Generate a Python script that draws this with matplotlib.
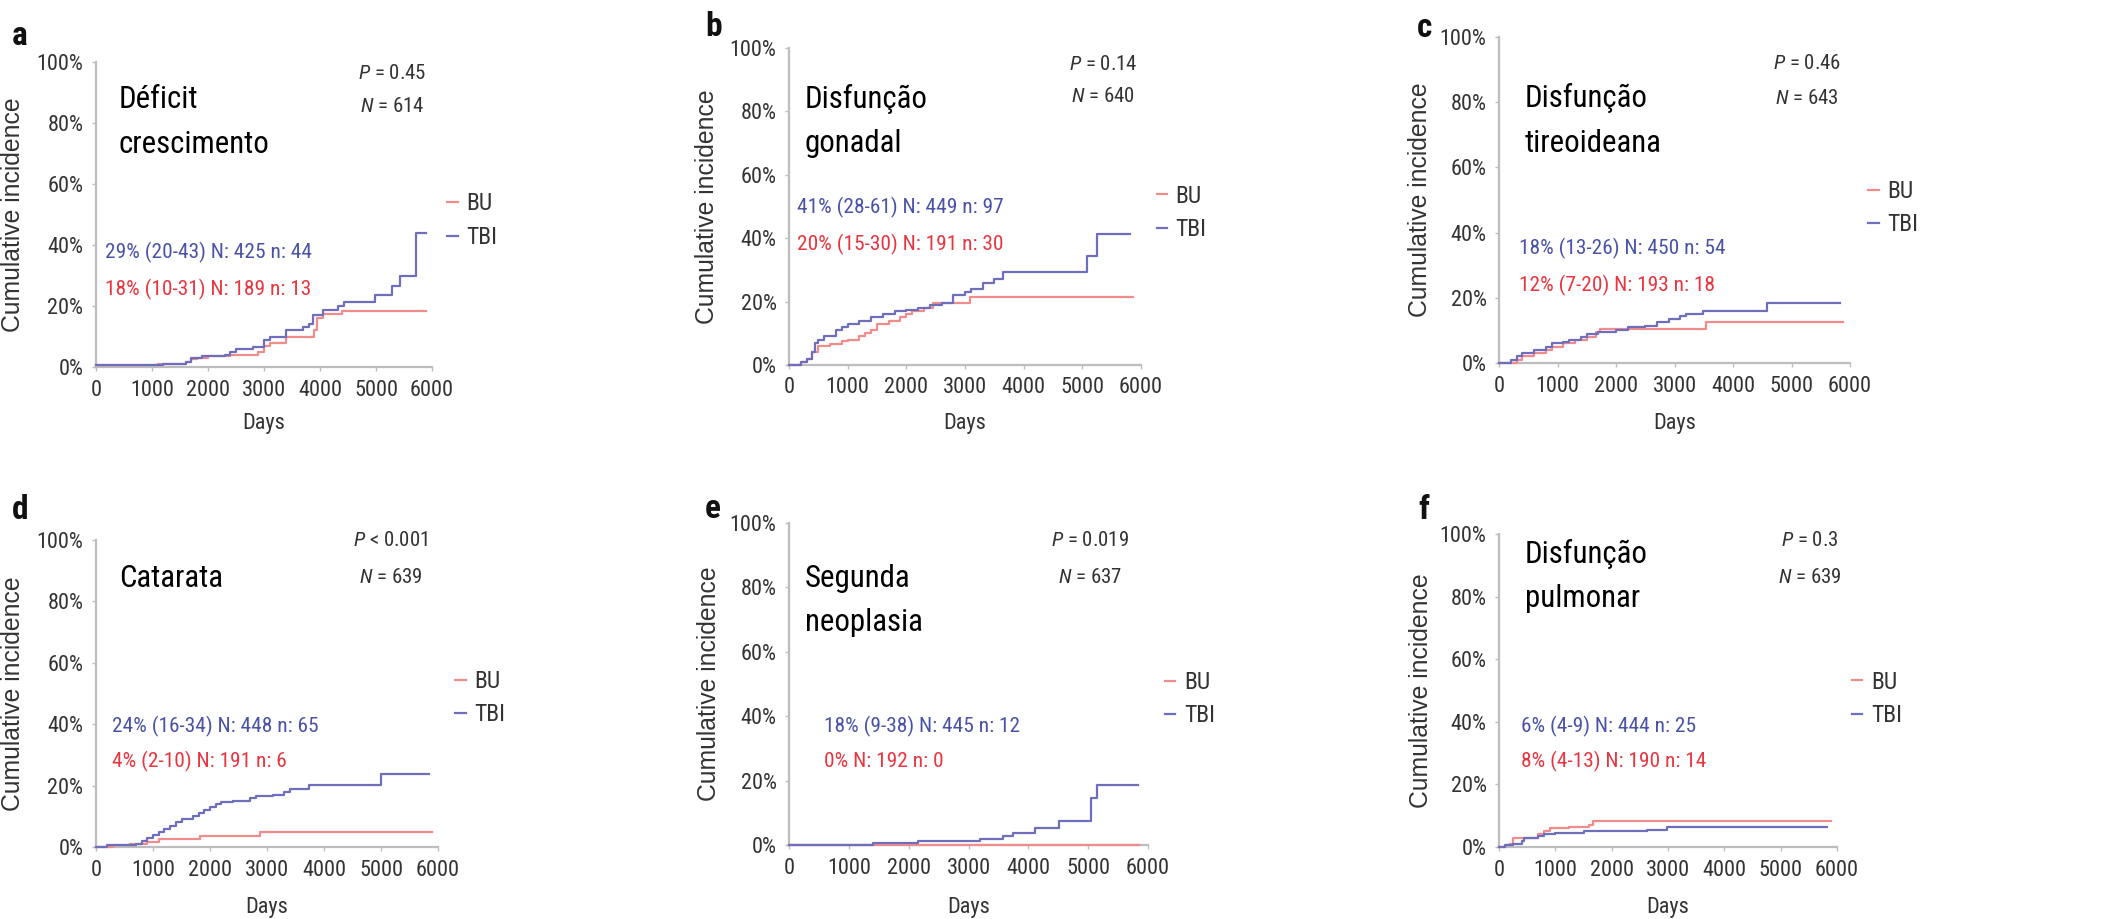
import matplotlib
matplotlib.use("Agg")
import matplotlib.pyplot as plt
from matplotlib.lines import Line2D

FONT = 'Roboto Condensed'
plt.rcParams['font.family'] = [FONT, 'Liberation Sans', 'DejaVu Sans']
plt.rcParams['mathtext.fontset'] = 'custom'
plt.rcParams['mathtext.rm'] = FONT
plt.rcParams['mathtext.it'] = FONT + ':italic'
plt.rcParams['mathtext.bf'] = FONT + ':bold'

W, H = 2124, 919

# ---------------- data (days, cumulative incidence %) ----------------
a_bu_days = [0, 1100, 1600, 1700, 1800, 2000, 2400, 2900, 3000, 3100, 3400, 3900, 3950, 4050, 4400, 5890]
a_bu_inc = [0.5, 1.0, 1.5, 2.5, 3.0, 3.5, 4.0, 5.0, 7.0, 8.0, 10.0, 12.0, 16.0, 17.5, 18.2, 18.2]
a_tbi_days = [0, 1000, 1200, 1600, 1700, 1900, 2300, 2400, 2500, 2800, 3000, 3100, 3400, 3700, 3800,
              3880, 4060, 4330, 4420, 4980, 5280, 5430, 5720, 5900]
a_tbi_inc = [0.5, 0.5, 1.0, 1.5, 3.0, 3.5, 4.0, 5.0, 6.0, 6.5, 9.0, 10.0, 12.0, 13.0, 14.0,
             17.0, 18.8, 20.0, 21.3, 23.5, 26.4, 30.0, 44.0, 44.0]

b_bu_days = [0, 200, 300, 400, 500, 700, 900, 1000, 1200, 1300, 1400, 1500, 1700, 1900, 2000, 2100,
             2300, 2460, 3080, 5870]
b_bu_inc = [0, 1.0, 2.0, 4.0, 6.0, 6.5, 7.5, 8.0, 9.0, 10.0, 11.0, 13.0, 14.0, 15.0, 16.0, 17.0,
            18.0, 19.7, 21.5, 21.5]
b_tbi_days = [0, 200, 300, 400, 450, 500, 600, 800, 900, 1000, 1200, 1400, 1600, 1800, 2000, 2200,
              2400, 2600, 2800, 3000, 3100, 3300, 3500, 3650, 5085, 5245, 5810]
b_tbi_inc = [0, 1.0, 2.0, 4.0, 7.0, 8.0, 9.0, 11.0, 12.0, 13.0, 14.0, 15.0, 16.0, 17.0, 17.5, 18.0,
             19.0, 19.5, 22.0, 23.0, 24.0, 26.0, 27.0, 29.4, 34.5, 41.3, 41.3]

c_bu_days = [0, 300, 400, 600, 800, 900, 1100, 1300, 1500, 1650, 1725, 3540, 5886]
c_bu_inc = [0, 1.0, 2.0, 3.0, 4.0, 5.0, 6.0, 7.0, 8.0, 9.5, 10.5, 12.6, 12.6]
c_tbi_days = [0, 200, 300, 400, 600, 800, 900, 1100, 1200, 1400, 1500, 1700, 2000, 2200, 2500, 2700,
              2900, 3100, 3200, 3490, 4575, 5830]
c_tbi_inc = [0, 1.0, 2.0, 3.0, 4.0, 5.0, 6.0, 6.5, 7.0, 8.0, 9.0, 9.5, 10.0, 11.0, 11.5, 12.5,
             13.5, 14.5, 15.0, 16.0, 18.4, 18.4]

d_bu_days = [0, 300, 600, 900, 1100, 1830, 2880, 5900]
d_bu_inc = [0, 0.5, 1.0, 1.5, 2.5, 3.5, 4.8, 4.8]
d_tbi_days = [0, 200, 700, 800, 900, 1000, 1100, 1200, 1300, 1400, 1500, 1700, 1800, 1900, 2000,
              2100, 2200, 2400, 2700, 2800, 3100, 3300, 3400, 3730, 5000, 5840]
d_tbi_inc = [0, 0.5, 1.0, 2.0, 3.0, 4.0, 5.0, 6.0, 7.0, 8.0, 9.0, 10.0, 11.0, 12.0, 13.0,
             14.0, 14.5, 15.0, 16.0, 16.5, 17.0, 18.0, 19.0, 20.3, 23.9, 23.9]

e_bu_days = [0, 5850]
e_bu_inc = [0, 0]
e_tbi_days = [0, 1400, 2160, 3190, 3580, 3740, 4110, 4520, 5050, 5150, 5830]
e_tbi_inc = [0, 0.7, 1.3, 2.0, 2.8, 3.6, 5.4, 7.5, 14.5, 18.6, 18.6]

f_bu_days = [0, 100, 200, 250, 700, 800, 900, 1250, 1600, 1660, 5900]
f_bu_inc = [0, 0.5, 1.0, 3.0, 4.0, 5.0, 6.0, 6.5, 7.0, 8.2, 8.2]
f_tbi_days = [0, 100, 250, 400, 450, 700, 800, 1000, 1500, 2620, 2975, 5820]
f_tbi_inc = [0, 0.5, 1.0, 2.0, 3.0, 3.5, 4.0, 4.5, 5.0, 5.3, 6.4, 6.4]

panel_letters = ['a', 'b', 'c', 'd', 'e', 'f']
titles = [['Déficit', 'crescimento'], ['Disfunção', 'gonadal'], ['Disfunção', 'tireoideana'],
          ['Catarata'], ['Segunda', 'neoplasia'], ['Disfunção', 'pulmonar']]
p_texts = [r'$P$ = 0.45', r'$P$ = 0.14', r'$P$ = 0.46', r'$P$ < 0.001', r'$P$ = 0.019', r'$P$ = 0.3']
n_texts = [r'$N$ = 614', r'$N$ = 640', r'$N$ = 643', r'$N$ = 639', r'$N$ = 637', r'$N$ = 639']
tbi_labels = ['29% (20-43) N: 425 n: 44', '41% (28-61) N: 449 n: 97', '18% (13-26) N: 450 n: 54',
              '24% (16-34) N: 448 n: 65', '18% (9-38) N: 445 n: 12', '6% (4-9) N: 444 n: 25']
bu_labels = ['18% (10-31) N: 189 n: 13', '20% (15-30) N: 191 n: 30', '12% (7-20) N: 193 n: 18',
             '4% (2-10) N: 191 n: 6', '0% N: 192 n: 0', '8% (4-13) N: 190 n: 14']
series_names = ['BU', 'TBI']
x_ticks = [0, 1000, 2000, 3000, 4000, 5000, 6000]
y_ticks = [0, 20, 40, 60, 80, 100]
y_ticklabels = ['0%', '20%', '40%', '60%', '80%', '100%']

bu_data = [(a_bu_days, a_bu_inc), (b_bu_days, b_bu_inc), (c_bu_days, c_bu_inc),
           (d_bu_days, d_bu_inc), (e_bu_days, e_bu_inc), (f_bu_days, f_bu_inc)]
tbi_data = [(a_tbi_days, a_tbi_inc), (b_tbi_days, b_tbi_inc), (c_tbi_days, c_tbi_inc),
            (d_tbi_days, d_tbi_inc), (e_tbi_days, e_tbi_inc), (f_tbi_days, f_tbi_inc)]

# ---------------- layout (pixels) ----------------
boxes = [(96, 432, 62, 367), (789, 1141, 48, 365), (1499, 1850, 37, 363),
         (96, 438, 540, 847), (789, 1148, 523, 845), (1499, 1837, 534, 847)]
letter_pos = [(12, 45), (705, 36), (1417, 37), (12, 519), (705, 518), (1418, 519)]
title_pos = [(119, [108, 153]), (805, [108, 152]), (1525, [107, 152]),
             (119, [587]), (805, [587, 631]), (1525, [563, 607])]
pn_pos = [(392, 79, 112), (1103, 70, 102), (1807, 69, 104),
          (391, 546, 583), (1090, 546, 583), (1810, 546, 583)]
ann_pos = [(105, 258, 295), (797, 213, 250), (1519, 254, 291),
           (112, 732, 767), (824, 732, 767), (1521, 732, 767)]
legend_pos = [(1.045, 0.48), (1.045, 0.48), (1.051, 0.475),
              (1.05, 0.485), (1.047, 0.453), (1.044, 0.473)]
ylabel_right = [25, 719, 1432, 25, 721, 1433]
xlabel_top = [413, 413, 413, 897, 897, 897]

BU_LINE = '#f08c8c'
TBI_LINE = '#6e6ebd'
BU_TEXT = '#e8353f'
TBI_TEXT = '#4a52a8'
AX_GRAY = '#bdbdbd'
TXT = '#333333'

fig = plt.figure(figsize=(W / 100, H / 100), dpi=100)


def fx(px):
    return px / W


def fy(py):
    return 1 - py / H


for i in range(6):
    l, r, t, b = boxes[i]
    ax = fig.add_axes([fx(l), fy(b), (r - l) / W, (b - t) / H])
    ax.set_xlim(0, 6000)
    ax.set_ylim(0, 100)
    for s in ['top', 'right']:
        ax.spines[s].set_visible(False)
    for s in ['left', 'bottom']:
        ax.spines[s].set_color(AX_GRAY)
        ax.spines[s].set_linewidth(1.6)
    ax.set_xticks(x_ticks)
    ax.set_yticks(y_ticks)
    ax.set_yticklabels(y_ticklabels)
    ax.tick_params(axis='both', colors=AX_GRAY, length=3, width=1.0, labelsize=16,
                   labelcolor=TXT, pad=6)
    bx, by = bu_data[i]
    tx, ty = tbi_data[i]
    ax.step(bx, by, where='post', color=BU_LINE, lw=1.6, clip_on=False, zorder=3)
    ax.step(tx, ty, where='post', color=TBI_LINE, lw=1.6, clip_on=False, zorder=4)

    ax.set_ylabel('Cumulative incidence', fontsize=17.8, color=TXT,
                  family=['Liberation Sans', 'DejaVu Sans'])
    ax.yaxis.set_label_coords((ylabel_right[i] - l) / (r - l), 0.5)
    ax.set_xlabel('Days', fontsize=16, color=TXT)
    ax.xaxis.set_label_coords(0.5, (b - xlabel_top[i]) / (b - t))

    def afx(px):
        return (px - l) / (r - l)

    def afy(py):
        return (b - py) / (b - t)

    tx0, tbl = title_pos[i]
    for line, bl in zip(titles[i], tbl):
        ax.text(afx(tx0), afy(bl), line, transform=ax.transAxes, fontsize=22.2,
                color='black', ha='left', va='baseline')
    pcx, pby, nby = pn_pos[i]
    ax.text(afx(pcx), afy(pby), p_texts[i], transform=ax.transAxes, fontsize=15,
            color=TXT, ha='center', va='baseline')
    ax.text(afx(pcx), afy(nby), n_texts[i], transform=ax.transAxes, fontsize=15,
            color=TXT, ha='center', va='baseline')
    alx, aby1, aby2 = ann_pos[i]
    ax.text(afx(alx), afy(aby1), tbi_labels[i], transform=ax.transAxes, fontsize=15.4,
            color=TBI_TEXT, ha='left', va='baseline')
    ax.text(afx(alx), afy(aby2), bu_labels[i], transform=ax.transAxes, fontsize=15.4,
            color=BU_TEXT, ha='left', va='baseline')

    handles = [Line2D([], [], color=BU_LINE, lw=1.6), Line2D([], [], color=TBI_LINE, lw=1.6)]
    leg = ax.legend(handles, series_names, loc='center left', bbox_to_anchor=legend_pos[i],
                    frameon=False, fontsize=17, handlelength=0.45, handletextpad=0.35,
                    labelspacing=0.45, borderpad=0, borderaxespad=0)
    for txt in leg.get_texts():
        txt.set_color(TXT)

    lx, lby = letter_pos[i]
    fig.text(fx(lx), fy(lby), panel_letters[i], fontsize=24, fontweight='bold',
             color='#111111', ha='left', va='baseline')

fig.savefig('out.png', dpi=100, facecolor='white')
